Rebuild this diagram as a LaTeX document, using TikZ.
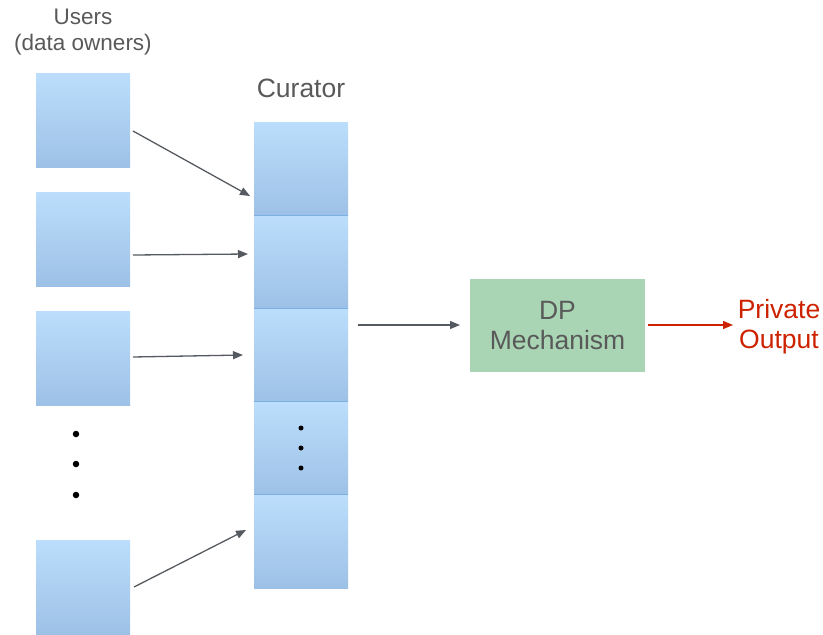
\documentclass[tikz,border=0pt]{standalone}
\usepackage{fontspec}
\setmainfont{Liberation Sans}
\usetikzlibrary{arrows.meta}
\definecolor{txtgray}{HTML}{595959}
\definecolor{arrgray}{HTML}{555A60}
\definecolor{btop}{HTML}{BCDEFC}
\definecolor{bbot}{HTML}{9DC1E6}
\definecolor{bline}{HTML}{7DB0E2}
\definecolor{dpgreen}{HTML}{A9D5B4}
\definecolor{outred}{HTML}{CC2200}
\tikzset{
  ubox/.style={minimum width=94pt, minimum height=94pt, inner sep=0pt, top color=btop, bottom color=bbot, draw=none},
  cbox/.style={minimum width=94pt, minimum height=93.2pt, inner sep=0pt, top color=btop, bottom color=bbot, draw=none},
  conn/.style={draw=arrgray, line width=1.3pt, -{Triangle[length=10pt,width=8pt]}},
  lbl/.style={text=txtgray, font=\fontsize{22.5}{26}\selectfont, align=center},
  big/.style={font=\fontsize{26.5}{30}\selectfont},
  dotb/.style={circle, fill=black, inner sep=0pt}
}
\begin{document}
\begin{tikzpicture}[x=1pt,y=-1pt]
\useasboundingbox (0,0) rectangle (823,635);
% users
\node[lbl] (ulbl) at (83,32) {Users\\(data owners)};
\node[ubox] (u1) at (83,120.5) {};
\node[ubox] (u2) at (83,239) {};
\node[ubox] (u3) at (83,358) {};
\node[ubox] (u4) at (83,587) {};
\node[dotb, minimum size=6.5pt] (d1) at (76,434) {};
\node[dotb, minimum size=6.5pt] (d2) at (76,464) {};
\node[dotb, minimum size=6.5pt] (d3) at (76,495) {};
% curator
\node[lbl, big] (clbl) at (301,88) {Curator};
\node[cbox] (c1) at (301,168.6) {};
\node[cbox] (c2) at (301,261.8) {};
\node[cbox] (c3) at (301,355) {};
\node[cbox] (c4) at (301,448.2) {};
\node[cbox] (c5) at (301,541.4) {};
\foreach \c in {c2,c3,c4,c5}{\draw[bline, line width=0.8pt] (\c.north west) -- (\c.north east);}
\node[dotb, minimum size=5pt] (e1) at (301,428) {};
\node[dotb, minimum size=5pt] (e2) at (301,448) {};
\node[dotb, minimum size=5pt] (e3) at (301,468) {};
% DP
\node[fill=dpgreen, minimum width=175pt, minimum height=93pt, inner sep=0pt, lbl, big] (dp) at (557.5,325.5) {DP\\Mechanism};
\node[text=outred, big, align=center] (out) at (779,327) {Private\\Output};
% connectors
\coordinate (a1s) at (133,131); \coordinate (a1e) at (250,196);
\coordinate (a2s) at (133,255); \coordinate (a2e) at (248,254);
\coordinate (a3s) at (133,357); \coordinate (a3e) at (243,355);
\coordinate (a4s) at (134,587); \coordinate (a4e) at (246,530);
\coordinate (a5s) at (358,325); \coordinate (a5e) at (460,325);
\coordinate (a6s) at (648,325); \coordinate (a6e) at (733,325);
\draw[conn] (a1s) -- (a1e);
\draw[conn] (a2s) -- (a2e);
\draw[conn] (a3s) -- (a3e);
\draw[conn] (a4s) -- (a4e);
\draw[conn] (a5s) -- (a5e);
\draw[conn, draw=outred] (a6s) -- (a6e);
\end{tikzpicture}
\end{document}
